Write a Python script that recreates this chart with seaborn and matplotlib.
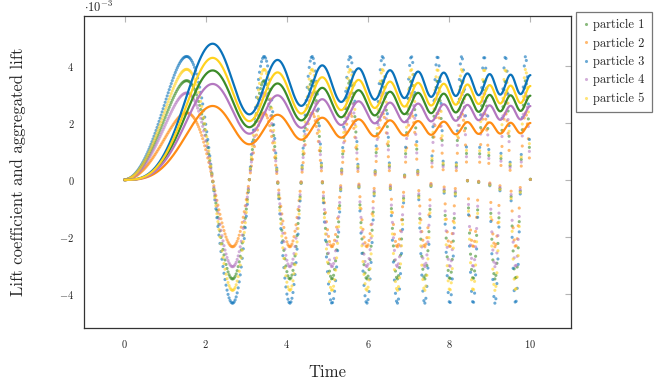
import numpy as np
import pandas as pd
import matplotlib
matplotlib.use("Agg")
import matplotlib.pyplot as plt
import seaborn as sns

# values (lift in units of 1e-3)
particles = ["particle 1", "particle 2", "particle 3", "particle 4", "particle 5"]
amplitude = [3.48, 2.35, 4.33, 3.05, 3.88]
colors = ["#3c8c28", "#ff8c14", "#0a72ba", "#b478c0", "#ffd21f"]

# times where the lift signal starts / peaks / bottoms out, with phase counted in quarter turns
extremum_time = [0.0, 1.55, 2.68, 3.44, 4.08, 4.63, 5.55, 6.36, 7.07, 7.70, 8.30, 8.85, 9.38, 9.90]
extremum_quarter = [0, 1, 3, 5, 7, 9, 13, 17, 21, 25, 29, 33, 37, 41]

t_start, t_end = 0.0, 10.0
dot_step = 0.025
line_step = 0.005

# smooth phase through the read extrema (signal starts flat at zero)
et = np.array(extremum_time)
design = np.column_stack([et ** 2, et])
phase_coef = np.linalg.lstsq(design, np.array(extremum_quarter) * np.pi / 2, rcond=None)[0]


def lift(t, amp):
    return amp * np.sin(phase_coef[0] * t ** 2 + phase_coef[1] * t)


t_dots = np.arange(t_start, t_end + dot_step / 2, dot_step)
t_line = np.arange(t_start, t_end + line_step / 2, line_step)

dots = []
lines = []
for name, amp in zip(particles, amplitude):
    dots.append(pd.DataFrame({"Time": t_dots, "lift": lift(t_dots, amp), "particle": name}))
    y = lift(t_line, amp)
    # aggregated lift = running integral of the lift coefficient
    agg = np.concatenate([[0.0], np.cumsum((y[1:] + y[:-1]) / 2 * line_step)])
    lines.append(pd.DataFrame({"Time": t_line, "lift": agg, "particle": name}))
dots = pd.concat(dots, ignore_index=True)
lines = pd.concat(lines, ignore_index=True)

sns.set_style("white")
plt.rcParams["font.family"] = "serif"
plt.rcParams["font.serif"] = ["cmr10"]
plt.rcParams["mathtext.fontset"] = "cm"
plt.rcParams["axes.formatter.use_mathtext"] = True

palette = dict(zip(particles, colors))

fig = plt.figure(figsize=(6.65, 3.83), dpi=100)
ax = fig.add_axes([0.1263, 0.1436, 0.7323, 0.8146])

sns.scatterplot(data=dots, x="Time", y="lift", hue="particle", palette=palette,
                s=5, linewidth=0, alpha=0.6, ax=ax)
sns.lineplot(data=lines, x="Time", y="lift", hue="particle", palette=palette,
             linewidth=1.6, legend=False, ax=ax)

ax.set_xlim(-1, 11)
ax.set_ylim(-5.2, 5.75)
ax.set_xticks([0, 2, 4, 6, 8, 10])
ax.set_yticks([-4, -2, 0, 2, 4])
ax.tick_params(direction="in", length=4, width=0.8, color="#b4b4b4",
               top=True, right=True, labelsize=7.5, pad=7)
for sp in ax.spines.values():
    sp.set_color("#333333")
    sp.set_linewidth(0.9)

ax.set_xlabel("Time", fontsize=12, labelpad=11)
ax.set_ylabel("Lift coefficient and aggregated lift", fontsize=12, labelpad=24)
ax.text(0.0, 1.003, r"$\cdot 10^{-3}$", transform=ax.transAxes, fontsize=9,
        ha="left", va="bottom")

leg = ax.legend(loc="upper left", bbox_to_anchor=(1.01, 1.012), frameon=True,
                fancybox=False, fontsize=9, markerscale=1.0, handletextpad=0.25,
                handlelength=0.6, borderpad=0.55, labelspacing=0.5, borderaxespad=0)
leg.get_frame().set_edgecolor("#555555")
leg.get_frame().set_linewidth(0.9)

fig.savefig("out.png", dpi=100)
plt.close(fig)
